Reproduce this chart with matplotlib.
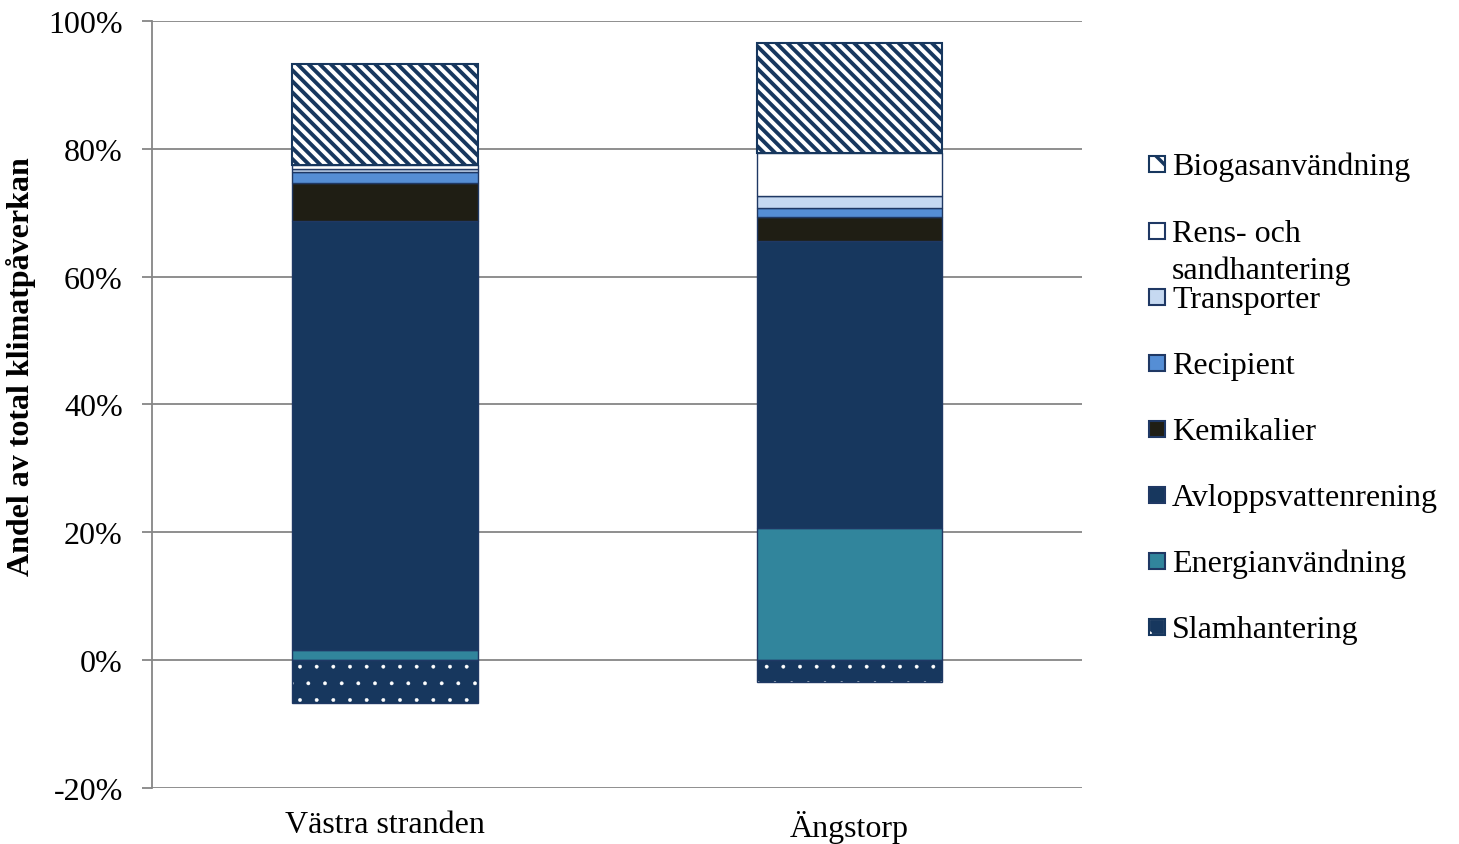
import matplotlib.pyplot as plt
import numpy as np
from matplotlib.patches import Rectangle

plt.rcParams['font.family'] = ['Liberation Serif', 'DejaVu Serif']

sites = ["Västra stranden", "Ängstorp"]
categories = ["Slamhantering", "Energianvändning", "Avloppsvattenrening", "Kemikalier",
              "Recipient", "Transporter", "Rens- och\nsandhantering", "Biogasanvändning"]
# andel (%) per kategori, [Västra stranden, Ängstorp]
slam = [-6.7, -3.4]
energi = [1.6, 20.7]
avlopp = [67.1, 44.9]
kemikalier = [6.0, 3.7]
recipient = [1.7, 1.5]
transporter = [0.5, 1.8]
rens = [0.5, 6.7]
biogas = [15.9, 17.3]

navy = "#17375E"
stripe = "\\\\\\"
styles = [
    dict(fc=navy, hatch="."),           # Slamhantering
    dict(fc="#31859C", hatch=None),     # Energianvändning
    dict(fc=navy, hatch=None),          # Avlopp
    dict(fc="#1F1E14", hatch=None),     # Kemikalier
    dict(fc="#558ED5", hatch=None),     # Recipient
    dict(fc="#C6D9F1", hatch=None),     # Transporter
    dict(fc="white", hatch=None),       # Rens
    dict(fc="white", hatch=stripe),     # Biogas
]

fig = plt.figure(figsize=(14.59, 8.45), dpi=100)
ax = fig.add_axes([0.1042, 0.0663, 0.6374, 0.9077])

x = np.arange(len(sites))
w = 0.4
fs = 23


def draw_bar(ax, xs, h, b, st):
    if st["hatch"] == ".":
        plt.rcParams['hatch.linewidth'] = 0.3
        ax.bar(xs, h, w, bottom=b, color=st["fc"], edgecolor="white", hatch=".", linewidth=0, zorder=3)
        ax.bar(xs, h, w, bottom=b, fill=False, edgecolor="#1F3864", linewidth=1, zorder=4)
    elif st["hatch"]:
        plt.rcParams['hatch.linewidth'] = 2.8
        ax.bar(xs, h, w, bottom=b, color=st["fc"], edgecolor=navy, hatch=st["hatch"], linewidth=1.5, zorder=3)
    else:
        ax.bar(xs, h, w, bottom=b, color=st["fc"], edgecolor="#1F3864", linewidth=1, zorder=3)


# negativ del
draw_bar(ax, x, slam, 0, styles[0])
bottom = np.zeros(len(sites))
for vals, st in zip([energi, avlopp, kemikalier, recipient, transporter, rens, biogas], styles[1:]):
    draw_bar(ax, x, vals, bottom, st)
    bottom += np.array(vals)

ax.set_xlim(-0.5, 1.5)
ax.set_ylim(-20, 100)
ax.set_yticks(np.arange(-20, 101, 20))
ax.set_yticklabels([f"{v}%" for v in range(-20, 101, 20)])
ax.set_xticks(x)
ax.set_xticklabels(sites)
ax.yaxis.grid(True, color="#868686", linewidth=1.3, zorder=0)
ax.set_axisbelow(True)
for s in ["top", "right", "bottom"]:
    ax.spines[s].set_visible(False)
ax.spines["left"].set_color("#868686")
ax.spines["left"].set_linewidth(1.3)
ax.tick_params(axis="y", length=7, color="#868686", width=1.3, labelsize=fs, pad=14)
ax.tick_params(axis="x", length=0, labelsize=fs, pad=16)
ax.set_ylabel("Andel av total klimatpåverkan", fontsize=fs, fontweight="bold")
ax.yaxis.set_label_coords(-0.1247, 0.551)

# legend, byggd manuellt
leg_y = [165, 232, 298, 364, 430, 496, 562, 628]
for i, (lab, st) in enumerate(zip(categories[::-1], styles[::-1])):
    yc = 1 - leg_y[i] / 845
    box = dict(xy=(1149 / 1459, yc - 8 / 845), width=16 / 1459, height=16 / 845,
               transform=fig.transFigure, linewidth=1.5)
    if st["hatch"] == stripe:
        plt.rcParams['hatch.linewidth'] = 2.5
        r = Rectangle(facecolor="white", edgecolor=navy, hatch="\\", **box)
    elif st["hatch"] == ".":
        plt.rcParams['hatch.linewidth'] = 0.3
        r = Rectangle(facecolor=navy, edgecolor="white", hatch=".", **box)
    else:
        r = Rectangle(facecolor=st["fc"], edgecolor="#1F3864", **box)
    fig.add_artist(r)
    if st["hatch"] == ".":
        fig.add_artist(Rectangle(fill=False, edgecolor=navy, **box))
    for j, line in enumerate(lab.split("\n")):
        fig.text(1172 / 1459, yc - (10 + 37 * j) / 845, line, fontsize=fs, va="baseline", ha="left")

fig.savefig("out.png", dpi=100)
